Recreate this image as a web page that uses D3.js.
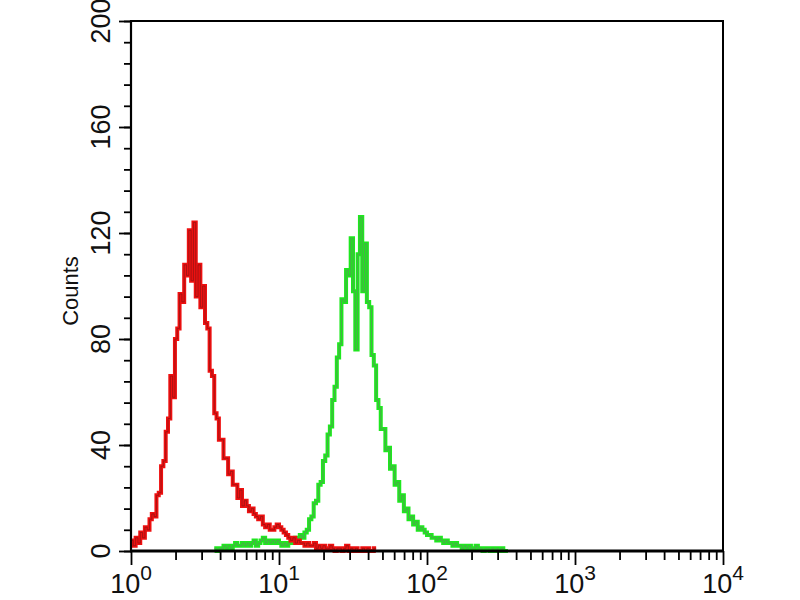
<!DOCTYPE html>
<html>
<head>
<meta charset="utf-8">
<script src="https://cdn.jsdelivr.net/npm/d3@7"></script>
<style>
  html, body { margin: 0; padding: 0; background: #fff; }
  svg { display: block; }
</style>
</head>
<body>
<div id="chart"></div>
<script>
// histogram channels: 64 per decade, 4 decades (10^0 .. 10^4)
const channelsPerDecade = 64;

// red (control) histogram, counts from channel redStart
const redStart = 0;
const redCounts = [
  4, 2, 5, 3, 7, 5, 9, 8, 12, 14,
  13, 21, 22, 32, 34, 45, 50, 66, 58, 80,
  84, 97, 94, 108, 104, 121, 102, 124, 96, 108,
  92, 100, 86, 84, 68, 66, 52, 50, 42, 42,
  35, 35, 29, 30, 25, 25, 20, 23, 17, 19,
  17, 15, 16, 14, 13, 12, 13, 10, 9, 10,
  8, 8, 9, 10, 9, 8, 7, 6, 5, 4,
  5, 3, 4, 3, 3, 2, 3, 2, 2, 3,
  1, 2, 1, 2, 1, 1, 2, 1, 0, 1,
  1, 0, 1, 2, 0, 1, 0, 1, 0, 0,
  1, 0, 1, 0, 0, 1
];

// green (stained) histogram, counts from channel greenStart
const greenStart = 36;
const greenCounts = [
  1, 0, 1, 1, 2, 1, 2, 1, 2, 3,
  2, 2, 3, 2, 3, 2, 3, 4, 2, 3,
  4, 5, 3, 4, 3, 4, 3, 4, 3, 2,
  3, 2, 3, 4, 3, 5, 4, 6, 5, 7,
  8, 12, 13, 18, 19, 25, 26, 34, 36, 44,
  47, 57, 62, 73, 78, 95, 94, 106, 104, 118,
  98, 76, 112, 126, 98, 116, 94, 92, 74, 70,
  57, 54, 46, 46, 38, 39, 31, 32, 25, 26,
  19, 21, 15, 16, 12, 13, 10, 11, 8, 9,
  8, 7, 6, 6, 5, 5, 4, 5, 4, 3,
  4, 3, 3, 2, 3, 2, 2, 1, 2, 1,
  2, 1, 1, 2, 1, 1, 0, 1, 1, 0,
  1, 0, 1, 0, 1, 0, 0
];

const xDecades = [0, 1, 2, 3, 4];
const yMajorTicks = [0, 40, 80, 120, 160, 200];
const yMinorStep = 8;
const yLabel = 'Counts';

const width = 800;
const height = 600;

const svg = d3.select('#chart')
  .append('svg')
  .attr('width', width)
  .attr('height', height);

const x = d3.scaleLog().domain([1, 1e4]).range([131, 723]);
const y = d3.scaleLinear().domain([0, 200]).range([551, 21]);

const labelFont = '"Liberation Sans", Arial, sans-serif';

// channel edge value
const edge = k => Math.pow(10, k / channelsPerDecade);

const toPoints = (start, counts) => {
  const pts = counts.map((c, i) => [edge(start + i), c]);
  pts.push([edge(start + counts.length), counts[counts.length - 1]]);
  return pts;
};

const line = d3.line()
  .x(d => x(d[0]))
  .y(d => y(d[1]))
  .curve(d3.curveStepAfter);

// histograms (green first, red on top)
const series = [
  { pts: toPoints(greenStart, greenCounts), color: '#1ee81e', dark: '#5f8f5f' },
  { pts: toPoints(redStart, redCounts), color: '#ee1010', dark: '#8e1414' }
];

series.forEach(s => {
  svg.append('path')
    .attr('d', line(s.pts))
    .attr('fill', 'none')
    .attr('stroke', s.color)
    .attr('stroke-width', 4)
    .attr('stroke-linejoin', 'miter');
  svg.append('path')
    .attr('d', line(s.pts))
    .attr('fill', 'none')
    .attr('stroke', s.dark)
    .attr('stroke-width', 0.9)
    .attr('stroke-opacity', 0.8);
});

// x axis ticks
const xMinor = [];
xDecades.slice(0, -1).forEach(d => {
  for (let m = 2; m <= 9; m++) xMinor.push(m * Math.pow(10, d));
});
const xMajor = xDecades.map(d => Math.pow(10, d));

const xMinorAxis = svg.append('g')
  .attr('transform', 'translate(0,551)')
  .call(d3.axisBottom(x).tickValues(xMinor).tickSize(9).tickFormat(''));
const xMajorAxis = svg.append('g')
  .attr('transform', 'translate(0,551)')
  .call(d3.axisBottom(x).tickValues(xMajor).tickSize(14).tickFormat(''));

// y axis ticks
const yMinorAxis = svg.append('g')
  .attr('transform', 'translate(131,0)')
  .call(d3.axisLeft(y).tickValues(d3.range(0, 201, yMinorStep)).tickSize(7).tickFormat(''));
const yMajorAxis = svg.append('g')
  .attr('transform', 'translate(131,0)')
  .call(d3.axisLeft(y).tickValues(yMajorTicks).tickSize(12).tickFormat(''));

[xMinorAxis, xMajorAxis, yMinorAxis, yMajorAxis].forEach(g => {
  g.select('.domain').remove();
  g.selectAll('.tick line').attr('stroke', '#000').attr('stroke-width', 1.8);
});

// frame
svg.append('line').attr('x1', 131).attr('x2', 724).attr('y1', 21).attr('y2', 21)
  .attr('stroke', '#000').attr('stroke-width', 2);
svg.append('line').attr('x1', 723).attr('x2', 723).attr('y1', 20).attr('y2', 552)
  .attr('stroke', '#000').attr('stroke-width', 2);
svg.append('line').attr('x1', 131).attr('x2', 131).attr('y1', 20).attr('y2', 552)
  .attr('stroke', '#000').attr('stroke-width', 2.2);
svg.append('line').attr('x1', 130).attr('x2', 724).attr('y1', 551).attr('y2', 551)
  .attr('stroke', '#000').attr('stroke-width', 3);

// x labels 10^n
xDecades.forEach(d => {
  const t = svg.append('text')
    .attr('x', x(Math.pow(10, d)))
    .attr('y', 593)
    .attr('text-anchor', 'middle')
    .attr('font-family', labelFont)
    .attr('font-size', 27)
    .attr('fill', '#111');
  t.append('tspan').text('10');
  t.append('tspan').attr('dy', -13).attr('font-size', 21).text(d);
});

// y labels, rotated
yMajorTicks.forEach(v => {
  svg.append('text')
    .attr('transform', `translate(110,${y(v)}) rotate(-90)`)
    .attr('text-anchor', 'middle')
    .attr('font-family', labelFont)
    .attr('font-size', 27)
    .attr('fill', '#111')
    .text(v);
});

svg.append('text')
  .attr('transform', 'translate(78,291) rotate(-90)')
  .attr('text-anchor', 'middle')
  .attr('font-family', labelFont)
  .attr('font-size', 22)
  .attr('fill', '#111')
  .text(yLabel);
</script>
</body>
</html>
